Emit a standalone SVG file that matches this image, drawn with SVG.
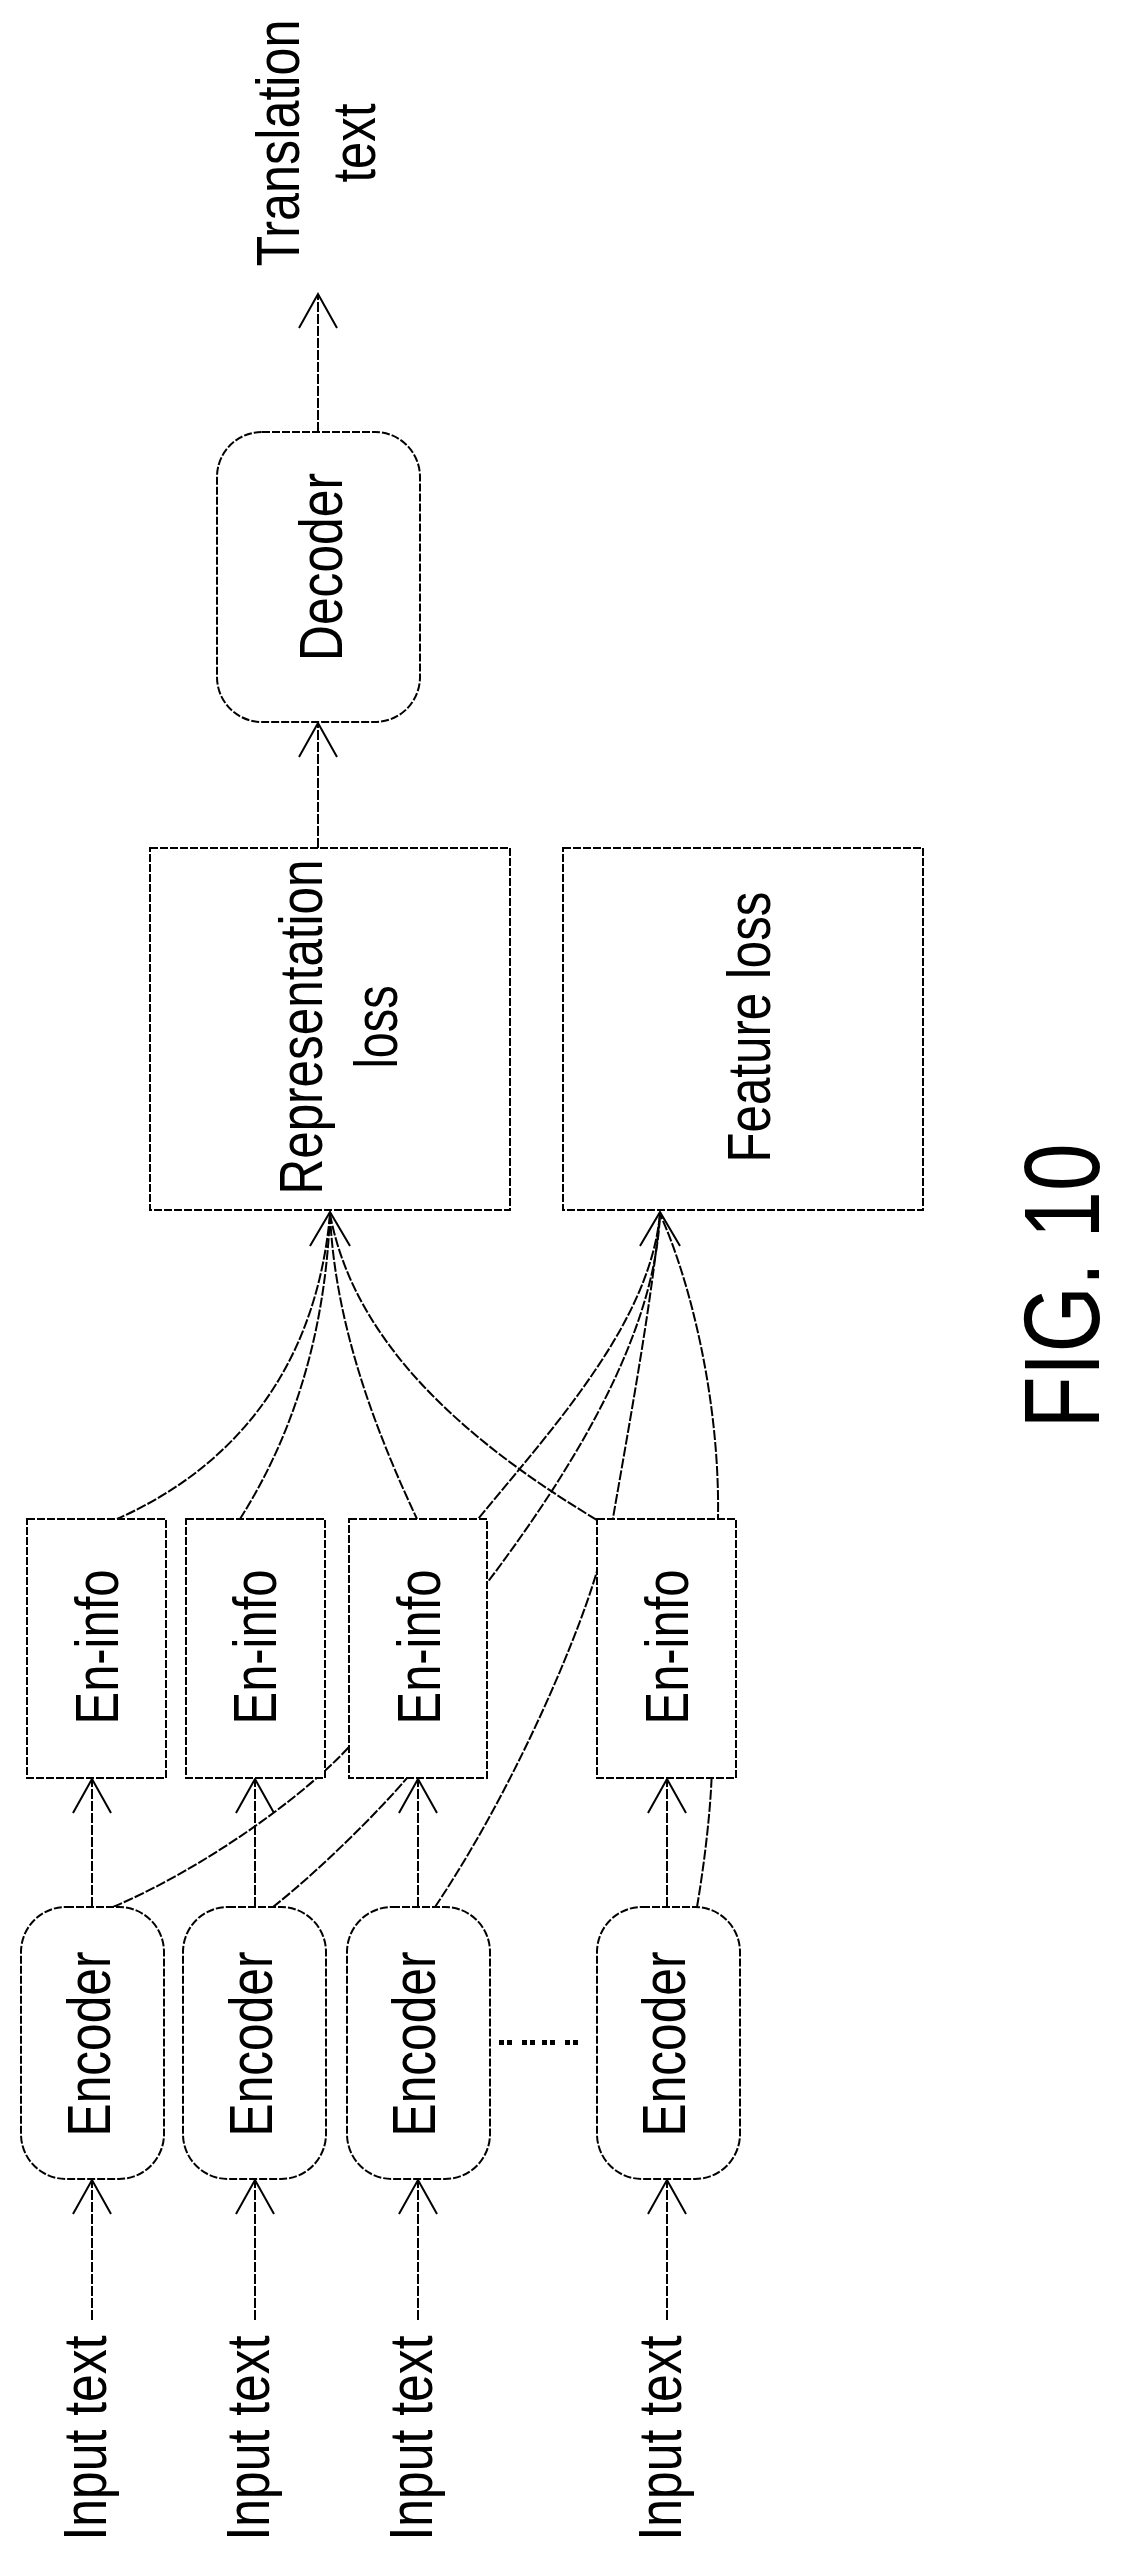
<svg xmlns="http://www.w3.org/2000/svg" width="1121" height="2560" viewBox="0 0 1121 2560">
<style>
.n{fill:#fff;stroke:#000;stroke-width:2;stroke-dasharray:8 2}
.c{fill:none;stroke:#000;stroke-width:2;stroke-dasharray:10 2}
.t{font-family:"Liberation Sans",Arial,sans-serif;font-size:62px;fill:#000;text-anchor:middle}
</style>
<defs>
<marker id="ah" markerUnits="userSpaceOnUse" markerWidth="50" markerHeight="50" refX="36" refY="20" orient="auto">
<path d="M2,1 L36,20 L2,39" fill="none" stroke="#000" stroke-width="2"/>
</marker>
</defs>
<rect width="1121" height="2560" fill="#fff"/>
<g id="connectors">
<line class="c" x1="318" y1="432" x2="318" y2="294" marker-end="url(#ah)"/>
<line class="c" x1="318" y1="848" x2="318" y2="723" marker-end="url(#ah)"/>
<line class="c" x1="92" y1="2320" x2="92" y2="2180" marker-end="url(#ah)"/>
<line class="c" x1="255" y1="2320" x2="255" y2="2180" marker-end="url(#ah)"/>
<line class="c" x1="418" y1="2320" x2="418" y2="2180" marker-end="url(#ah)"/>
<line class="c" x1="667" y1="2320" x2="667" y2="2180" marker-end="url(#ah)"/>
<line class="c" x1="92" y1="1907" x2="92" y2="1779" marker-end="url(#ah)"/>
<line class="c" x1="255" y1="1907" x2="255" y2="1779" marker-end="url(#ah)"/>
<line class="c" x1="418" y1="1907" x2="418" y2="1779" marker-end="url(#ah)"/>
<line class="c" x1="667" y1="1907" x2="667" y2="1779" marker-end="url(#ah)"/>
<path class="c" d="M330,1214 C318,1350 250,1460 117,1519"/>
<path class="c" d="M330,1214 C325,1340 290,1440 240,1519"/>
<path class="c" d="M330,1214 C335,1330 380,1440 417,1519"/>
<path class="c" d="M330,1214 C350,1320 430,1420 597,1520"/>
<path class="c" d="M113,1907 C200,1870 300,1800 349,1747 L487,1583 C580,1460 655,1330 660,1214"/>
<path class="c" d="M273,1907 C320,1870 380,1810 407,1778 L478,1519 C560,1420 650,1320 660,1214"/>
<path class="c" d="M435,1907 C520,1780 585,1620 600,1560 L613,1518 C630,1420 652,1300 660,1214"/>
<path class="c" d="M697,1907 C705,1860 712,1800 712,1760 L718,1518 C720,1400 690,1280 660,1214"/>
<path d="M310,1246 L330,1212 L350,1246 M640,1246 L660,1212 L680,1246" fill="none" stroke="#000" stroke-width="2"/>
</g>
<g id="translation">
<text class="t" transform="translate(299,143) rotate(-90)" textLength="247" lengthAdjust="spacingAndGlyphs">Translation</text>
<text class="t" transform="translate(375,143) rotate(-90)" textLength="79" lengthAdjust="spacingAndGlyphs">text</text>
</g>
<g id="decoder">
<rect class="n" x="217" y="432" width="203" height="290" rx="45"/>
<text class="t" transform="translate(342,567) rotate(-90)" textLength="188" lengthAdjust="spacingAndGlyphs">Decoder</text>
</g>
<g id="rep-loss">
<rect class="n" x="150" y="848" width="360" height="362"/>
<text class="t" transform="translate(322,1027) rotate(-90)" textLength="335" lengthAdjust="spacingAndGlyphs">Representation</text>
<text class="t" transform="translate(397,1027) rotate(-90)" textLength="83" lengthAdjust="spacingAndGlyphs">loss</text>
</g>
<g id="feature-loss">
<rect class="n" x="563" y="848" width="360" height="362"/>
<text class="t" transform="translate(770,1027) rotate(-90)" textLength="271" lengthAdjust="spacingAndGlyphs">Feature loss</text>
</g>
<g id="eninfo1"><rect class="n" x="27" y="1519" width="139" height="259"/><text class="t" transform="translate(118,1647) rotate(-90)" textLength="155" lengthAdjust="spacingAndGlyphs">En-info</text></g>
<g id="eninfo2"><rect class="n" x="186" y="1519" width="139" height="259"/><text class="t" transform="translate(276,1647) rotate(-90)" textLength="155" lengthAdjust="spacingAndGlyphs">En-info</text></g>
<g id="eninfo3"><rect class="n" x="349" y="1519" width="138" height="259"/><text class="t" transform="translate(440,1647) rotate(-90)" textLength="155" lengthAdjust="spacingAndGlyphs">En-info</text></g>
<g id="eninfo4"><rect class="n" x="597" y="1519" width="139" height="259"/><text class="t" transform="translate(688,1647) rotate(-90)" textLength="155" lengthAdjust="spacingAndGlyphs">En-info</text></g>
<g id="encoder1"><rect class="n" x="21" y="1907" width="143" height="272" rx="45"/><text class="t" transform="translate(110,2044) rotate(-90)" textLength="185" lengthAdjust="spacingAndGlyphs">Encoder</text></g>
<g id="encoder2"><rect class="n" x="183" y="1907" width="143" height="272" rx="45"/><text class="t" transform="translate(272,2044) rotate(-90)" textLength="185" lengthAdjust="spacingAndGlyphs">Encoder</text></g>
<g id="encoder3"><rect class="n" x="347" y="1907" width="143" height="272" rx="45"/><text class="t" transform="translate(435,2044) rotate(-90)" textLength="185" lengthAdjust="spacingAndGlyphs">Encoder</text></g>
<g id="encoder4"><rect class="n" x="597" y="1907" width="143" height="272" rx="45"/><text class="t" transform="translate(685,2044) rotate(-90)" textLength="185" lengthAdjust="spacingAndGlyphs">Encoder</text></g>
<g id="ellipsis" fill="#000">
<rect x="499" y="2040" width="5" height="5"/><rect x="507" y="2040" width="5" height="5"/>
<rect x="522" y="2040" width="5" height="5"/><rect x="530" y="2040" width="5" height="5"/>
<rect x="542" y="2040" width="5" height="5"/><rect x="550" y="2040" width="5" height="5"/>
<rect x="565" y="2040" width="5" height="5"/><rect x="573" y="2040" width="5" height="5"/>
</g>
<g id="inputs">
<text class="t" transform="translate(106,2438) rotate(-90)" textLength="205" lengthAdjust="spacingAndGlyphs">Input text</text>
<text class="t" transform="translate(269,2438) rotate(-90)" textLength="205" lengthAdjust="spacingAndGlyphs">Input text</text>
<text class="t" transform="translate(432,2438) rotate(-90)" textLength="205" lengthAdjust="spacingAndGlyphs">Input text</text>
<text class="t" transform="translate(681,2438) rotate(-90)" textLength="205" lengthAdjust="spacingAndGlyphs">Input text</text>
</g>
<g id="figure-label">
<text class="t" style="font-size:108px" transform="translate(1099,1286) rotate(-90)" textLength="285" lengthAdjust="spacingAndGlyphs">FIG. 10</text>
</g>
</svg>
